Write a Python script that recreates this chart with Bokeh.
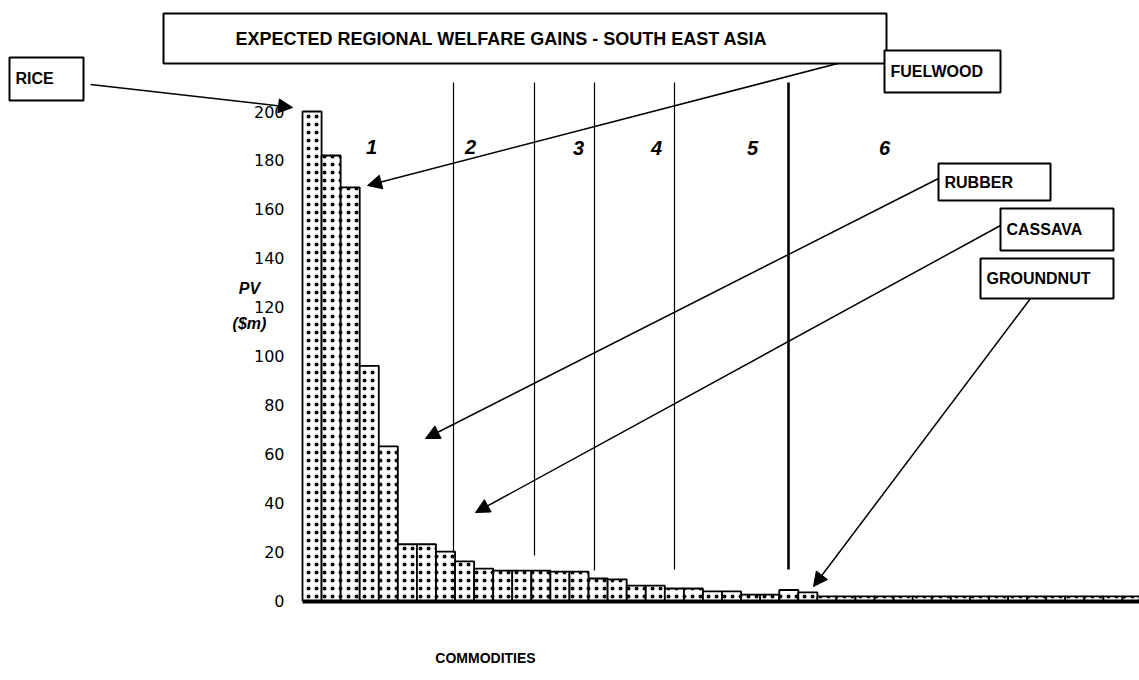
from bokeh.plotting import figure
from bokeh.models import Range1d, Arrow, NormalHead, BoxAnnotation, Label
from bokeh.core.properties import value
from bokeh.embed import file_html
from bokeh.resources import INLINE

# ---------------- data ----------------
pv_values = [200, 182, 169, 96, 63, 23, 23, 20, 16, 13,
             12.2, 12.2, 12.2, 11.8, 11.8, 9.0, 8.6, 6.1, 6.1, 4.9,
             4.9, 3.7, 3.7, 2.4, 2.4, 4.3, 3.3, 1.7, 1.7, 1.7,
             1.7, 1.7, 1.7, 1.7, 1.7, 1.7, 1.7, 1.7, 1.7, 1.7,
             1.7, 1.7, 1.7, 1.7]
commodity_index = list(range(len(pv_values)))
y_ticks = [0, 20, 40, 60, 80, 100, 120, 140, 160, 180, 200]
zone_labels = ["1", "2", "3", "4", "5", "6"]
callouts = ["RICE", "FUELWOOD", "RUBBER", "CASSAVA", "GROUNDNUT"]
title_text = "EXPECTED REGIONAL WELFARE GAINS - SOUTH EAST ASIA"
y_label = ["PV", "($m)"]
x_label = "COMMODITIES"

# ---------------- layout helpers (page pixel -> data) ----------------
W, H = 1139, 680
PITCH = 19.07
def dx(X):
    return (X - 302) / PITCH - 0.5
def dy(Y):
    return (600 - Y) / 2.445

p = figure(width=W, height=H, output_backend="svg", toolbar_location=None,
           x_range=Range1d(dx(0), dx(W)), y_range=Range1d(dy(H), dy(0)),
           min_border=0, x_axis_location=None, y_axis_location=None,
           outline_line_color=None, background_fill_color="white")
p.xgrid.grid_line_color = None
p.ygrid.grid_line_color = None

FONT = "Liberation Sans"

# bars
p.vbar(x=commodity_index, top=pv_values, bottom=0, width=1.0,
       fill_color="white", line_color="black", line_width=1.8,
       hatch_pattern="dot", hatch_color="black", hatch_scale=8, hatch_weight=1.0)

# baseline
p.segment(x0=[commodity_index[0] - 0.5], x1=[commodity_index[-1] + 0.5],
          y0=[dy(601.5)], y1=[dy(601.5)], line_color="black", line_width=3)

# y tick labels
p.text(x=[dx(284)] * len(y_ticks), y=y_ticks, text=[str(t) for t in y_ticks],
       text_align="right", text_baseline="middle",
       text_font=value("DejaVu Sans"), text_font_size="16px", text_color="black")

# zone separators
zx = [dx(453), dx(534), dx(594), dx(674), dx(788)]
zend = [dy(552), dy(555), dy(570), dy(569), dy(569)]
p.segment(x0=zx, x1=zx, y0=[dy(82)] * 5, y1=zend, line_color="black",
          line_width=[1.2, 1.2, 1.2, 1.2, 2.6])

# zone numbers
zone_pos = [(371, 146), (470, 146), (578, 147), (656, 147), (752, 147), (884, 147)]
for lab, (X, Y) in zip(zone_labels, zone_pos):
    p.add_layout(Label(x=dx(X), y=dy(Y), text=lab, text_font=FONT,
                       text_font_style="bold italic", text_font_size="20px",
                       text_color="black",
                       text_align="center", text_baseline="middle"))

# arrows
arrows = [((90, 84), (292, 107)),
          ((868, 55), (367, 185)),
          ((938, 178), (425, 438)),
          ((1000, 225), (475, 512)),
          ((1030, 298), (813, 586))]
for (s, e) in arrows:
    p.add_layout(Arrow(end=NormalHead(size=14, fill_color="black", line_color="black"),
                       x_start=dx(s[0]), y_start=dy(s[1]), x_end=dx(e[0]), y_end=dy(e[1]),
                       line_color="black", line_width=1.5))

# boxes
boxes = [(163, 886, 13, 63),    # title
         (9, 83, 57, 100),      # rice
         (884, 1000, 50, 92),   # fuelwood
         (938, 1050, 163, 200), # rubber
         (1000, 1113, 208, 250),# cassava
         (980, 1113, 258, 298)] # groundnut
for (l, r, t, b) in boxes:
    p.add_layout(BoxAnnotation(left=dx(l), right=dx(r), top=dy(t), bottom=dy(b),
                               fill_color="white", fill_alpha=1.0,
                               line_color="black", line_width=2, line_alpha=1.0))

# title
p.add_layout(Label(x=dx(501), y=dy(38), text=title_text, text_font=FONT,
                   text_font_style="bold", text_font_size="18px", text_color="black",
                   text_align="center", text_baseline="middle"))

# callout texts
call_pos = [(15, 78), (890, 71), (944, 182), (1006, 229), (986, 278)]
for lab, (X, Y) in zip(callouts, call_pos):
    p.add_layout(Label(x=dx(X), y=dy(Y), text=lab, text_font=FONT,
                       text_font_style="bold", text_font_size="16px", text_color="black",
                       text_align="left", text_baseline="middle"))

# axis titles
p.add_layout(Label(x=dx(249), y=dy(288), text=y_label[0], text_font=FONT,
                   text_font_style="bold italic", text_font_size="16px", text_color="black",
                   text_align="center", text_baseline="middle"))
p.add_layout(Label(x=dx(249), y=dy(323), text=y_label[1], text_font=FONT,
                   text_font_style="bold italic", text_font_size="16px", text_color="black",
                   text_align="center", text_baseline="middle"))
p.add_layout(Label(x=dx(485), y=dy(657), text=x_label, text_font=FONT,
                   text_font_style="bold", text_font_size="14px", text_color="black",
                   text_align="center", text_baseline="middle"))

open("out.html", "w").write(file_html(p, INLINE, title="Expected Regional Welfare Gains"))
